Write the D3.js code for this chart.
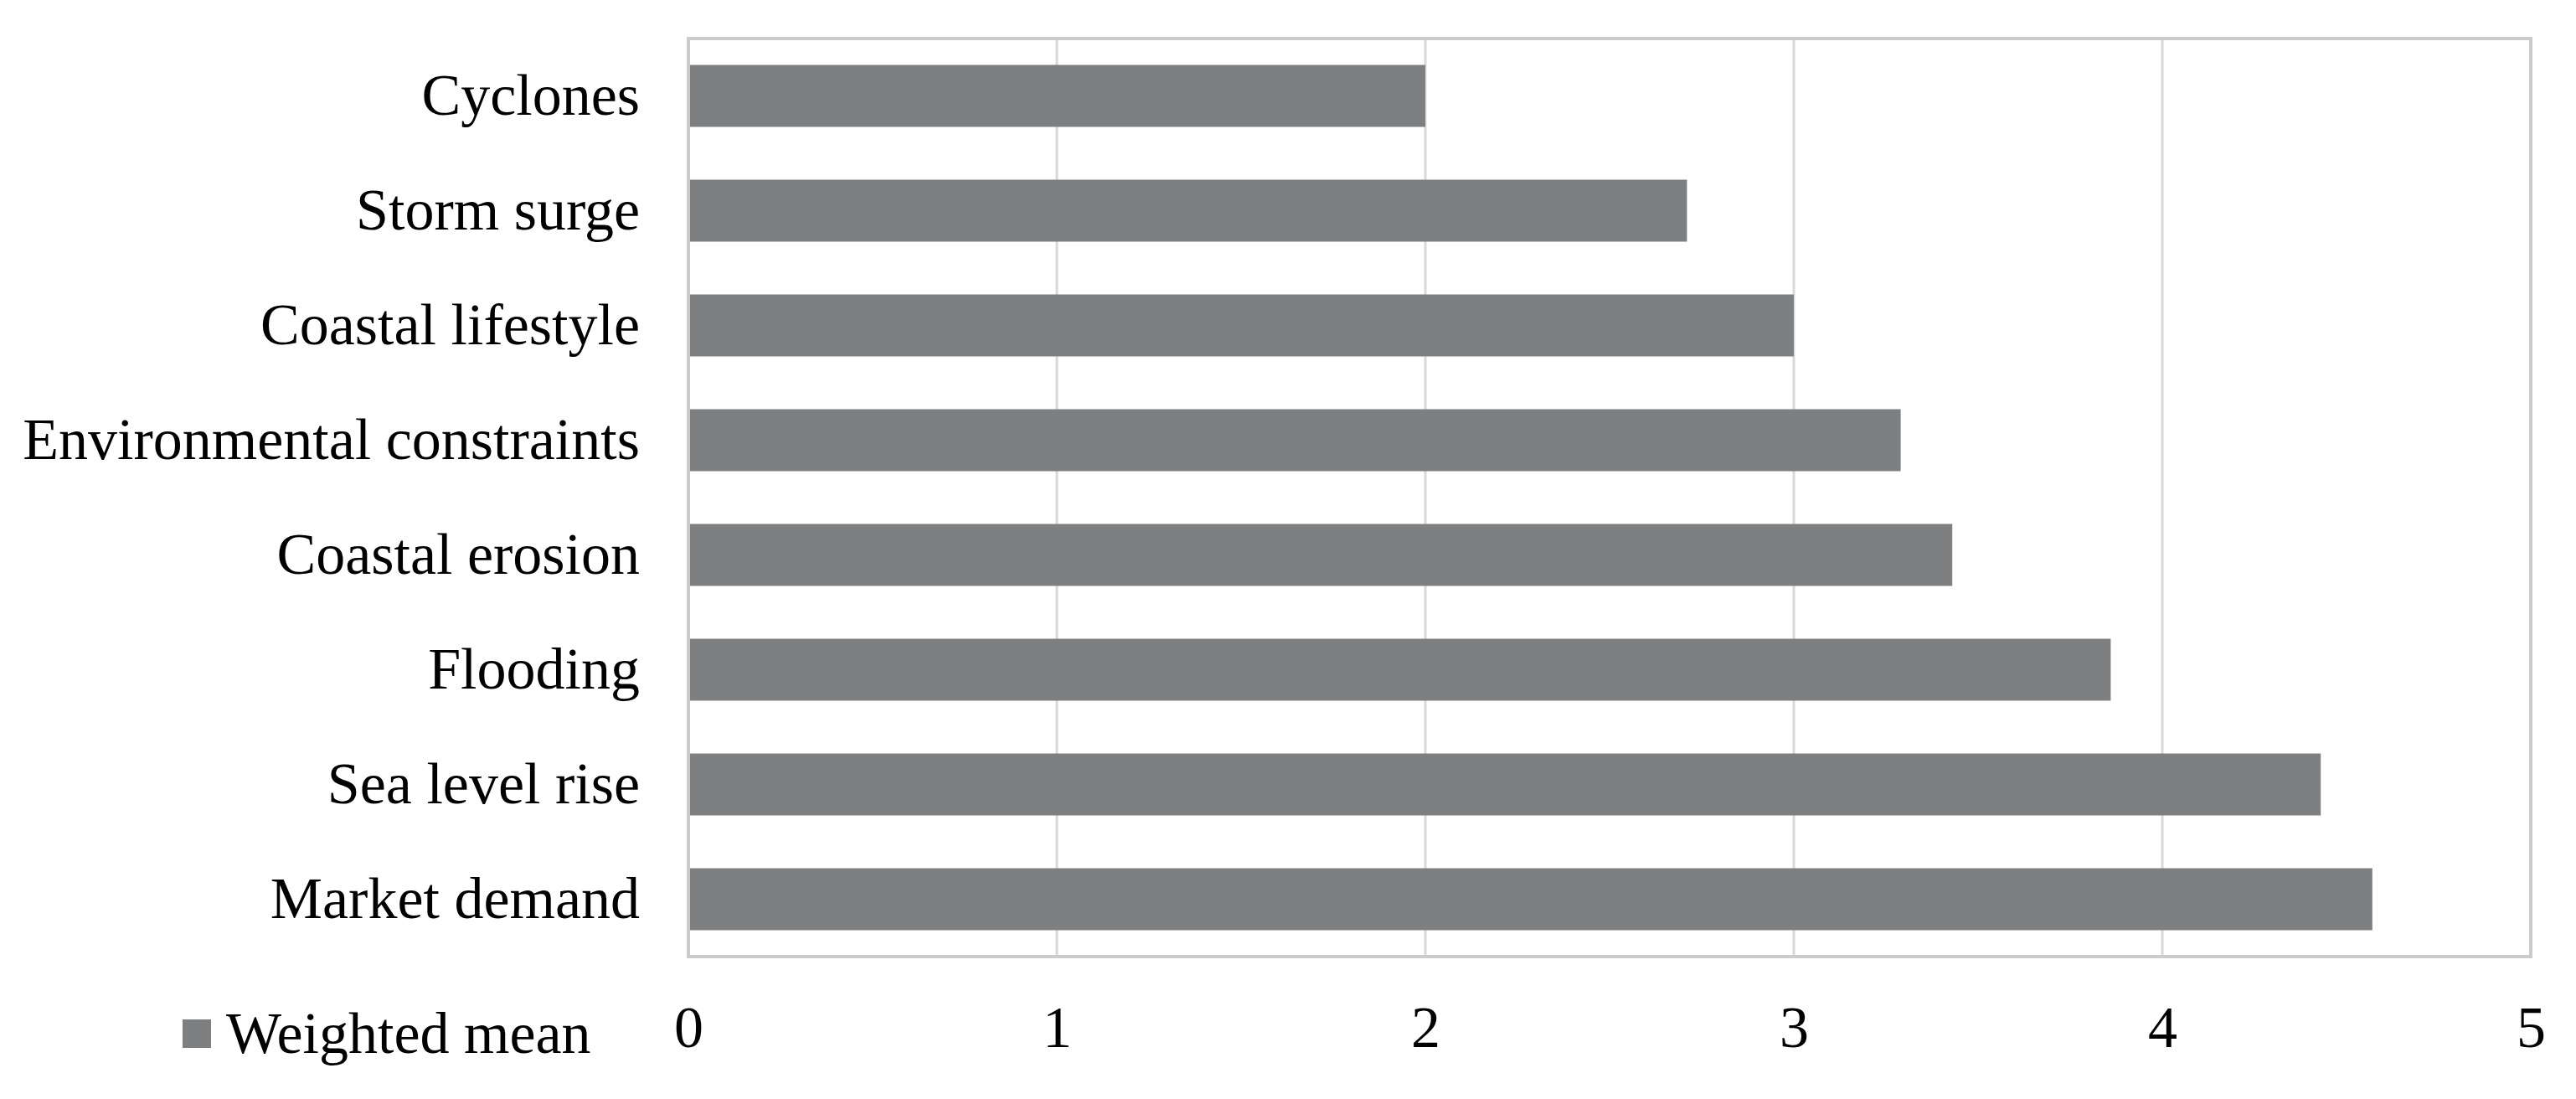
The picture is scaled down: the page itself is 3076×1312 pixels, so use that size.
<!DOCTYPE html>
<html>
<head>
<meta charset="utf-8">
<script src="https://cdn.jsdelivr.net/npm/d3@7"></script>
<style>
  html, body { margin: 0; padding: 0; background: #ffffff; }
  svg { display: block; }
  text { font-family: "Liberation Serif", "Times New Roman", serif; fill: #000; }
</style>
</head>
<body>
<svg id="chart" width="3076" height="1312"></svg>
<script>
const categories = ["Cyclones", "Storm surge", "Coastal lifestyle", "Environmental constraints",
                    "Coastal erosion", "Flooding", "Sea level rise", "Market demand"];
const values = [2.0, 2.71, 3.0, 3.29, 3.43, 3.86, 4.43, 4.57];
const xTicks = [0, 1, 2, 3, 4, 5];
const seriesName = "Weighted mean";

const svg = d3.select("#chart");
const plot = { left: 822, right: 3022, top: 46, bottom: 1142 };

const x = d3.scaleLinear().domain([0, 5]).range([plot.left, plot.right]);
const y = d3.scaleBand().domain(categories).range([plot.top, plot.bottom]).paddingInner(0.46).paddingOuter(0.23);

// gridlines
svg.append("g").selectAll("line").data(xTicks.slice(1, -1)).join("line")
  .attr("x1", d => x(d)).attr("x2", d => x(d))
  .attr("y1", plot.top).attr("y2", plot.bottom)
  .attr("stroke", "#d9d9d9").attr("stroke-width", 3);

// bars
svg.append("g").selectAll("rect").data(categories).join("rect")
  .attr("x", x(0))
  .attr("y", d => y(d))
  .attr("width", (d, i) => x(values[i]) - x(0))
  .attr("height", y.bandwidth())
  .attr("fill", "#7e7f81");

// frame
svg.append("rect")
  .attr("x", plot.left).attr("y", plot.top)
  .attr("width", plot.right - plot.left).attr("height", plot.bottom - plot.top)
  .attr("fill", "none").attr("stroke", "#cbcbcb").attr("stroke-width", 4);

// y labels
const yAxis = d3.axisLeft(y).tickSize(0).tickPadding(plot.left - 764);
const gy = svg.append("g").attr("transform", `translate(${plot.left},0)`).call(yAxis);
gy.select(".domain").remove();
gy.selectAll("text").style("font-family", '"Liberation Serif", serif').style("font-size", "70px").attr("fill", "#000").attr("dy", "0.32em");

// x tick labels
const xAxis = d3.axisBottom(x).tickValues(xTicks).tickSize(0).tickPadding(0).tickFormat(d3.format("d"));
const gx = svg.append("g").attr("transform", `translate(0,1250)`).call(xAxis);
gx.select(".domain").remove();
gx.selectAll("text").style("font-family", '"Liberation Serif", serif').style("font-size", "70px").attr("fill", "#000").attr("dy", "0").attr("y", 0);

// legend
const lg = svg.append("g");
lg.append("rect").attr("x", 218).attr("y", 1217).attr("width", 34).attr("height", 34).attr("fill", "#7e7f81");
lg.append("text").attr("x", 270).attr("y", 1257).style("font-size", "70px").text(seriesName);
</script>
</body>
</html>
